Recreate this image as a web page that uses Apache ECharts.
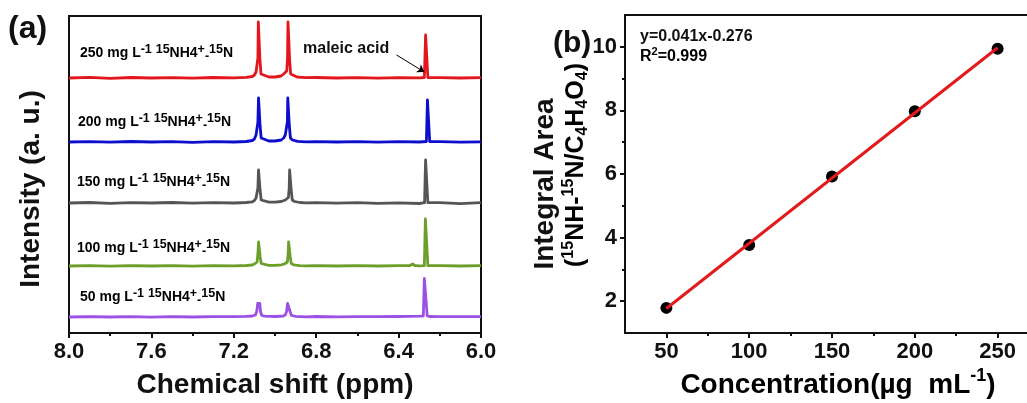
<!DOCTYPE html>
<html>
<head>
<meta charset="utf-8">
<script src="https://cdn.jsdelivr.net/npm/echarts@6/dist/echarts.min.js"></script>
<style>html,body{margin:0;padding:0;background:#fff;}#c{width:1027px;height:403px;}</style>
</head>
<body>
<div id="c"></div>
<script>
// ---------- Panel (a): 1H NMR spectra, [ppm, relative intensity] ----------
const spec250 = [[8.00,0],[7.90,0.6],[7.80,-0.3],[7.70,0.5],[7.60,0],[7.50,0.4],[7.40,-0.2],[7.30,0.5],[7.20,0.2],[7.14,0.6],[7.11,1.5],[7.100,3],[7.092,6],[7.087,6.5],[7.083,20],[7.081,56],[7.076,56],[7.073,18],[7.068,4],[7.06,2],[7.03,1],[7.00,1],[6.97,2],[6.958,4],[6.949,6],[6.943,7],[6.939,20],[6.937,56],[6.932,56],[6.929,18],[6.924,4],[6.915,2],[6.89,0.8],[6.85,0.3],[6.80,0.5],[6.70,0],[6.60,0.4],[6.50,-0.2],[6.40,0.3],[6.30,0.2],[6.275,0.5],[6.269,43],[6.262,43],[6.258,0.5],[6.25,0],[6.20,0.3],[6.10,0],[6.00,0.4]];
const spec200 = [[8.00,0],[7.90,0.4],[7.80,-0.2],[7.70,0.5],[7.60,0],[7.50,0.3],[7.40,-0.3],[7.30,0.4],[7.20,0],[7.14,0.5],[7.11,1.5],[7.100,3],[7.092,7],[7.087,7.5],[7.083,20],[7.080,44],[7.075,44],[7.072,15],[7.067,4],[7.06,2],[7.03,1],[7.00,1],[6.97,2],[6.958,4],[6.950,7],[6.944,7.5],[6.940,20],[6.938,44],[6.933,44],[6.930,15],[6.925,4],[6.915,2],[6.89,0.6],[6.85,0.2],[6.80,0.4],[6.70,0],[6.60,0.3],[6.50,-0.2],[6.40,0.3],[6.30,0],[6.265,0.5],[6.260,42],[6.253,42],[6.249,0.5],[6.24,0],[6.20,0.3],[6.10,-0.2],[6.00,0.2]];
const spec150 = [[8.00,0],[7.90,0.5],[7.80,-0.3],[7.70,0.4],[7.60,0],[7.50,0.5],[7.40,-0.2],[7.30,0.3],[7.20,0],[7.14,0.5],[7.11,1.2],[7.100,2.5],[7.092,5],[7.087,5.5],[7.083,15],[7.080,33],[7.075,33],[7.072,12],[7.067,3],[7.06,1.5],[7.03,0.8],[7.00,0.8],[6.97,1.5],[6.950,3],[6.941,5],[6.935,5.5],[6.931,15],[6.929,33],[6.924,33],[6.921,12],[6.916,3],[6.905,1.5],[6.88,0.5],[6.85,0.2],[6.80,0.4],[6.70,-0.2],[6.60,0.3],[6.50,-0.3],[6.40,0.2],[6.30,-0.5],[6.274,0.3],[6.269,43],[6.262,43],[6.258,0.4],[6.25,0],[6.20,0.4],[6.10,-0.6],[6.00,0.3]];
const spec100 = [[8.00,0],[7.90,0.3],[7.80,-0.2],[7.70,0.4],[7.60,0],[7.50,0.3],[7.40,-0.2],[7.30,0.3],[7.20,0.2],[7.14,0.5],[7.11,1],[7.100,2],[7.092,3.5],[7.087,4],[7.083,12],[7.080,24],[7.075,24],[7.072,9],[7.067,2.5],[7.06,1.2],[7.03,0.6],[7.00,0.6],[6.97,1.2],[6.955,2],[6.946,3.5],[6.940,4],[6.936,12],[6.934,24],[6.929,24],[6.926,9],[6.921,2.5],[6.91,1.2],[6.88,0.4],[6.85,0.2],[6.80,0.4],[6.70,0],[6.60,0.3],[6.50,0],[6.40,0.3],[6.345,0.5],[6.332,2],[6.322,0.5],[6.30,0.2],[6.275,0.4],[6.270,47],[6.262,47],[6.258,0.4],[6.25,0],[6.20,0.3],[6.10,0],[6.00,0.3]];
const spec50 = [[8.00,0],[7.90,0.4],[7.80,0],[7.70,0.4],[7.60,-0.2],[7.50,0.3],[7.40,0],[7.30,0.4],[7.20,0.3],[7.14,0.6],[7.11,1],[7.095,2],[7.088,6],[7.084,13.5],[7.074,13.5],[7.070,5],[7.064,1.5],[7.05,0.8],[7.00,0.5],[6.96,1],[6.950,2],[6.943,6],[6.939,13.5],[6.930,13.5],[6.926,5],[6.920,1.5],[6.90,0.6],[6.85,0.2],[6.80,0.5],[6.70,0.2],[6.60,0.4],[6.50,0.3],[6.40,0.5],[6.30,0.8],[6.280,1],[6.275,38.5],[6.266,38.5],[6.261,1],[6.25,0.5],[6.20,0.4],[6.10,0.3],[6.00,0.4]];
const spectra = [spec250, spec200, spec150, spec100, spec50];
const offsets = [255, 191, 130, 67, 16];
const concLabels = ['250', '200', '150', '100', '50'];
const specColors = ['#e3151d', '#0d0dcc', '#555555', '#6c9f2a', '#9b50e6'];
const ppmTicks = [6.0, 6.4, 6.8, 7.2, 7.6, 8.0];

// ---------- Panel (b): calibration ----------
const concentration = [50, 100, 150, 200, 250];
const integralArea = [1.79, 3.77, 5.92, 7.97, 9.94];
const fitLine = [[50, 1.77], [250, 9.97]];
const concTicks = [50, 100, 150, 200, 250];
const concMinor = [75, 125, 175, 225];
const areaTicks = [2, 4, 6, 8, 10];
const areaMinor = [3, 5, 7, 9];

const FF = '"Liberation Sans", Arial, sans-serif';
const chart = echarts.init(document.getElementById('c'));

const specSeries = spectra.map((s, i) => {
  const o = {
    type: 'line', xAxisIndex: 0, yAxisIndex: 0, showSymbol: false, silent: true,
    data: s.map(p => [p[0], p[1] + offsets[i]]),
    lineStyle: { color: specColors[i], width: 2.8, join: 'round' }
  };
  if (i === 0) {
    o.markLine = {
      silent: true, symbol: ['none', 'arrow'], symbolSize: 7,
      lineStyle: { color: '#000', width: 1, type: 'solid' }, label: { show: false },
      data: [[{ coord: [6.41, 278] }, { coord: [6.275, 261] }]]
    };
  }
  return o;
});

const labelY = [53, 122, 182, 248, 297];
const labelX = [80, 78, 77, 77, 80];
const rich = {
  n: { fontFamily: FF, fontWeight: 'bold', fontSize: 14, lineHeight: 20, verticalAlign: 'middle', color: '#111' },
  sup: { fontFamily: FF, fontWeight: 'bold', fontSize: 12.5, lineHeight: 11, verticalAlign: 'top', color: '#111' },
  sub: { fontFamily: FF, fontWeight: 'bold', fontSize: 12.5, lineHeight: 11, verticalAlign: 'bottom', color: '#111' }
};
const concTexts = concLabels.map((c, i) => ({
  type: 'text', x: labelX[i], y: labelY[i],
  style: { text: '{n|' + c + ' mg L}{sup|-1}{n| }{sup|15}{n|NH4}{sup|+}{sub|-}{sup|15}{n|N}', rich: rich, align: 'left', verticalAlign: 'middle' }
}));

const big = (t) => ({ font: 'bold 28px ' + FF, fill: '#111', text: t, align: 'center', verticalAlign: 'middle' });

const option = {
  animation: false,
  backgroundColor: '#fff',
  grid: [
    { left: 69, top: 16, width: 412, height: 317, outerBoundsMode: 'none', show: true, borderColor: '#111', borderWidth: 2, backgroundColor: 'transparent' },
    { left: 625, top: 15, width: 414, height: 318, outerBoundsMode: 'none', show: false }
  ],
  xAxis: [
    { type: 'value', gridIndex: 0, min: 6, max: 8, inverse: true, interval: 0.4,
      axisLine: { show: true, lineStyle: { color: '#111', width: 2 } },
      axisTick: { show: true, length: 5, lineStyle: { color: '#111', width: 2 } },
      minorTick: { show: true, splitNumber: 2, length: 3, lineStyle: { color: '#111', width: 2 } },
      splitLine: { show: false },
      axisLabel: { margin: 8, color: '#111', fontFamily: FF, fontWeight: 'bold', fontSize: 22, formatter: v => v.toFixed(1) } },
    { type: 'value', gridIndex: 1, min: 25, max: 275, position: 'bottom',
      axisLine: { show: true, onZero: false, lineStyle: { color: '#111', width: 2 } },
      axisTick: { show: true, length: 5, customValues: concTicks, lineStyle: { color: '#111', width: 2 } },
      splitLine: { show: false },
      axisLabel: { margin: 8, customValues: concTicks, color: '#111', fontFamily: FF, fontWeight: 'bold', fontSize: 22 } },
    { type: 'value', gridIndex: 1, min: 25, max: 275, position: 'bottom',
      axisLine: { show: false, onZero: false },
      axisTick: { show: true, length: 3, customValues: concMinor, lineStyle: { color: '#111', width: 2 } },
      splitLine: { show: false },
      axisLabel: { show: false, customValues: concMinor } },
    { type: 'value', gridIndex: 1, min: 25, max: 275, position: 'top',
      axisLine: { show: true, onZero: false, lineStyle: { color: '#111', width: 2 } },
      axisTick: { show: false }, splitLine: { show: false }, axisLabel: { show: false } }
  ],
  yAxis: [
    { type: 'value', gridIndex: 0, min: 0, max: 317, show: false },
    { type: 'value', gridIndex: 1, min: 1, max: 11, position: 'left',
      axisLine: { show: true, onZero: false, lineStyle: { color: '#111', width: 2 } },
      axisTick: { show: true, length: 5, customValues: areaTicks, lineStyle: { color: '#111', width: 2 } },
      splitLine: { show: false },
      axisLabel: { margin: 8, customValues: areaTicks, color: '#111', fontFamily: FF, fontWeight: 'bold', fontSize: 22 } },
    { type: 'value', gridIndex: 1, min: 1, max: 11, position: 'left',
      axisLine: { show: false, onZero: false },
      axisTick: { show: true, length: 3, customValues: areaMinor, lineStyle: { color: '#111', width: 2 } },
      splitLine: { show: false },
      axisLabel: { show: false, customValues: areaMinor } }
  ],
  series: specSeries.concat([
    { type: 'scatter', xAxisIndex: 1, yAxisIndex: 1, symbolSize: 12, z: 2,
      itemStyle: { color: '#000', opacity: 1 },
      data: concentration.map((c, i) => [c, integralArea[i]]) },
    { type: 'line', xAxisIndex: 1, yAxisIndex: 1, showSymbol: false, z: 3,
      lineStyle: { color: '#e31a1c', width: 3 }, data: fitLine }
  ]),
  graphic: [
    { type: 'text', x: 8, y: 29, style: { text: '(a)', font: 'bold 32px ' + FF, fill: '#111', align: 'left', verticalAlign: 'middle' } },
    { type: 'text', x: 553, y: 44, style: { text: '(b)', font: 'bold 30px ' + FF, fill: '#111', align: 'left', verticalAlign: 'middle' } },
    { type: 'text', x: 303, y: 49, style: { text: 'maleic acid', font: 'bold 16px ' + FF, fill: '#111', align: 'left', verticalAlign: 'middle' } },
    { type: 'text', x: 275, y: 385, style: big('Chemical shift (ppm)') },
    { type: 'text', x: 31, y: 189, rotation: Math.PI / 2, style: big('Intensity (a. u.)') },
    { type: 'text', x: 545, y: 184, rotation: Math.PI / 2, style: big('Integral Area') },
    { type: 'text', x: 576, y: 165, rotation: Math.PI / 2,
      style: { text: '{n|(}{sup|15}{n|NH-}{sup|15}{n|N/C}{sub|4}{n|H}{sub|4}{n|O}{sub|4}{n|)}', align: 'center', verticalAlign: 'middle',
        rich: {
          n: { fontFamily: FF, fontWeight: 'bold', fontSize: 25, lineHeight: 30, verticalAlign: 'middle', color: '#111' },
          sup: { fontFamily: FF, fontWeight: 'bold', fontSize: 16, lineHeight: 16, verticalAlign: 'top', color: '#111' },
          sub: { fontFamily: FF, fontWeight: 'bold', fontSize: 16, lineHeight: 16, verticalAlign: 'bottom', color: '#111' }
        } } },
    { type: 'text', x: 838, y: 385,
      style: { text: '{n|Concentration(µg  mL}{sup|-1}{n|)}', align: 'center', verticalAlign: 'middle',
        rich: {
          n: { fontFamily: FF, fontWeight: 'bold', fontSize: 28, lineHeight: 36, verticalAlign: 'middle', color: '#111' },
          sup: { fontFamily: FF, fontWeight: 'bold', fontSize: 18, lineHeight: 20, verticalAlign: 'top', color: '#111' }
        } } },
    { type: 'text', x: 640, y: 37, style: { text: 'y=0.041x-0.276', font: 'bold 16px ' + FF, fill: '#111', align: 'left', verticalAlign: 'middle' } },
    { type: 'text', x: 640, y: 57,
      style: { text: '{n|R}{sup|2}{n|=0.999}', align: 'left', verticalAlign: 'middle',
        rich: {
          n: { fontFamily: FF, fontWeight: 'bold', fontSize: 16, lineHeight: 22, verticalAlign: 'middle', color: '#111' },
          sup: { fontFamily: FF, fontWeight: 'bold', fontSize: 11, lineHeight: 12, verticalAlign: 'top', color: '#111' }
        } } }
  ].concat(concTexts)
};
chart.setOption(option);
</script>
</body>
</html>
